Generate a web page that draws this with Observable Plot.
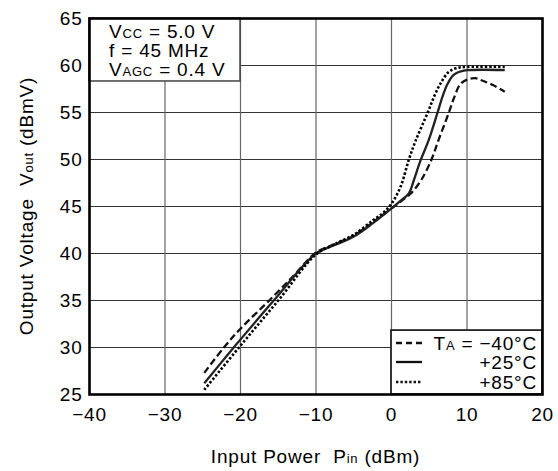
<!DOCTYPE html>
<html><head><meta charset="utf-8">
<script src="https://cdn.jsdelivr.net/npm/d3@7"></script>
<script src="https://cdn.jsdelivr.net/npm/@observablehq/plot@0.6"></script>
<style>body{margin:0;background:#fff;}</style>
</head><body><div id="chart"></div>
<script>
// Tick values
const xTicks = [-40, -30, -20, -10, 0, 10, 20];
const yTicks = [25, 30, 35, 40, 45, 50, 55, 60, 65];

// Series: TA = -40°C (dashed)
const pinM40  = [-24.8, -22.2, -20, -16.2, -13, -10, -7.5, -5, -2.5, 0, 1.5, 2.7, 4, 5.3, 6.2, 7.6, 8.3, 9.1, 10, 11.1, 12, 13.5, 15];
const voutM40 = [27.3, 30, 32.0, 35, 37.6, 40.1, 41.0, 41.9, 43.3, 44.8, 45.7, 46.5, 47.9, 50, 52, 55, 56.6, 58.0, 58.5, 58.65, 58.4, 57.9, 57.2];
// Series: +25°C (solid)
const pinP25  = [-24.8, -20.9, -20, -15.6, -10, -7.5, -5, -2.5, 0, 1.2, 2.3, 3.0, 3.8, 4.9, 6.1, 6.8, 7.4, 8.0, 8.5, 9.3, 10, 12, 15];
const voutP25 = [26.2, 30, 30.85, 35, 40.0, 40.9, 41.8, 43.2, 44.8, 45.6, 46.4, 47.9, 49.8, 52, 55, 56.8, 58.0, 58.8, 59.15, 59.4, 59.5, 59.55, 59.5];
// Series: +85°C (dotted)
const pinP85  = [-24.8, -20, -15, -10, -7.5, -5, -2.5, -1, 0, 1.2, 2.3, 3.2, 4.8, 5.7, 6.5, 7.5, 8.5, 10, 15];
const voutP85 = [25.5, 30.2, 35.0, 39.9, 41.0, 42.0, 43.5, 44.4, 45.3, 47.1, 50, 52, 55, 56.8, 58.1, 59.25, 59.7, 59.85, 59.85];

const seriesLabels = ["−40°C", "+25°C", "+85°C"];

// Layout (annotation boxes in data units)
const annoBox = {x1: -40, x2: -20, y1: 58.3, y2: 65};
const legendBox = {x1: 0, x2: 20, y1: 25, y2: 31.8};

const toRows = (xs, ys) => xs.map((x, i) => ({pin: x, vout: ys[i]}));
const dM40 = toRows(pinM40, voutM40);
const dP25 = toRows(pinP25, voutP25);
const dP85 = toRows(pinP85, voutP85);

const fmt = d => d < 0 ? "\u2212" + Math.abs(d) : String(d);
const dashStyles = ["7,3.5", null, "2.4,2"];
const lineColor = "#111";
const common = {x: "pin", y: "vout", strokeWidth: 2.3, strokeLinecap: "butt", curve: "catmull-rom"};

const plot = Plot.plot({
  width: 558, height: 471,
  marginLeft: 89, marginRight: 16, marginTop: 18, marginBottom: 77,
  x: {domain: [-40, 20]},
  y: {domain: [25, 65]},
  style: {fontFamily: "'Liberation Sans', Arial, sans-serif", fontSize: "19px", letterSpacing: "0.8px", color: "#000", background: "#fff"},
  marks: [
    Plot.gridY(yTicks, {stroke: "#333", strokeOpacity: 1, strokeWidth: 1.2}),
    Plot.gridX(xTicks, {stroke: "#666", strokeOpacity: 1, strokeWidth: 1.2}),
    Plot.rect([annoBox], {x1: "x1", x2: "x2", y1: "y1", y2: "y2", fill: "#fff", stroke: "#444", strokeWidth: 1.5}),
    Plot.rect([legendBox], {x1: "x1", x2: "x2", y1: "y1", y2: "y2", fill: "#fff", stroke: "#222", strokeWidth: 1.8}),
    Plot.line(dM40, {...common, stroke: lineColor, strokeDasharray: dashStyles[0]}),
    Plot.line(dP25, {...common, stroke: "#222"}),
    Plot.line(dP85, {...common, stroke: "#000", strokeWidth: 2.6, strokeDasharray: dashStyles[2]}),
    Plot.axisX(xTicks, {tickSize: 0, tickPadding: 13, tickFormat: fmt, label: null}),
    Plot.axisY(yTicks, {tickSize: 0, tickPadding: 7, tickFormat: fmt, label: null}),
    Plot.frame({stroke: "#000", strokeWidth: 2.6})
  ]
});

document.getElementById("chart").appendChild(plot);

const sx = v => plot.scale("x").apply(v);
const sy = v => plot.scale("y").apply(v);
const svg = d3.select(plot);
const g = svg.append("g").attr("fill", "#000");

function addText(x, y, parts, anchor) {
  const t = g.append("text").attr("x", x).attr("y", y).attr("text-anchor", anchor || "start");
  parts.forEach(p => {
    const ts = t.append("tspan").text(p[0]);
    if (p[1]) ts.attr("font-size", p[1]);
  });
  return t;
}

// Condition annotation (top-left box)
const ax = sx(annoBox.x1) + 20, ay = sy(annoBox.y2);
addText(ax, ay + 20, [["V"], ["CC", 13], [" = 5.0 V"]]);
addText(ax, ay + 39, [["f = 45 MHz"]]);
addText(ax, ay + 58, [["V"], ["AGC", 13], [" = 0.4 V"]]);

// Legend (bottom-right box)
const lx0 = sx(legendBox.x1) + 5, lx1 = sx(legendBox.x1) + 31;
const lyBase = sy(legendBox.y1);
const rowY = [lyBase - 51, lyBase - 32, lyBase - 12];
const textX = sx(legendBox.x2) - 5;
rowY.forEach((yy, i) => {
  const ln = g.append("line").attr("x1", lx0).attr("x2", lx1).attr("y1", yy).attr("y2", yy)
    .attr("stroke", lineColor).attr("stroke-width", 2.3);
  if (dashStyles[i]) ln.attr("stroke-dasharray", i === 0 ? "6,4" : "2.4,2");
});
addText(textX, rowY[0] + 7, [["T"], ["A", 13], [" = " + seriesLabels[0]]], "end");
addText(textX, rowY[1] + 7, [[seriesLabels[1]]], "end");
addText(textX, rowY[2] + 7, [[seriesLabels[2]]], "end");

// Axis titles
addText((sx(-40) + sx(20)) / 2, 463, [["Input Power  P"], ["in", 13], [" (dBm)"]], "middle");
const yl = g.append("text").attr("transform", `translate(33,${(sy(25) + sy(65)) / 2}) rotate(-90)`).attr("text-anchor", "middle");
yl.append("tspan").text("Output Voltage  V");
yl.append("tspan").attr("font-size", 13).text("out");
yl.append("tspan").text(" (dBmV)");
</script>
</body></html>
